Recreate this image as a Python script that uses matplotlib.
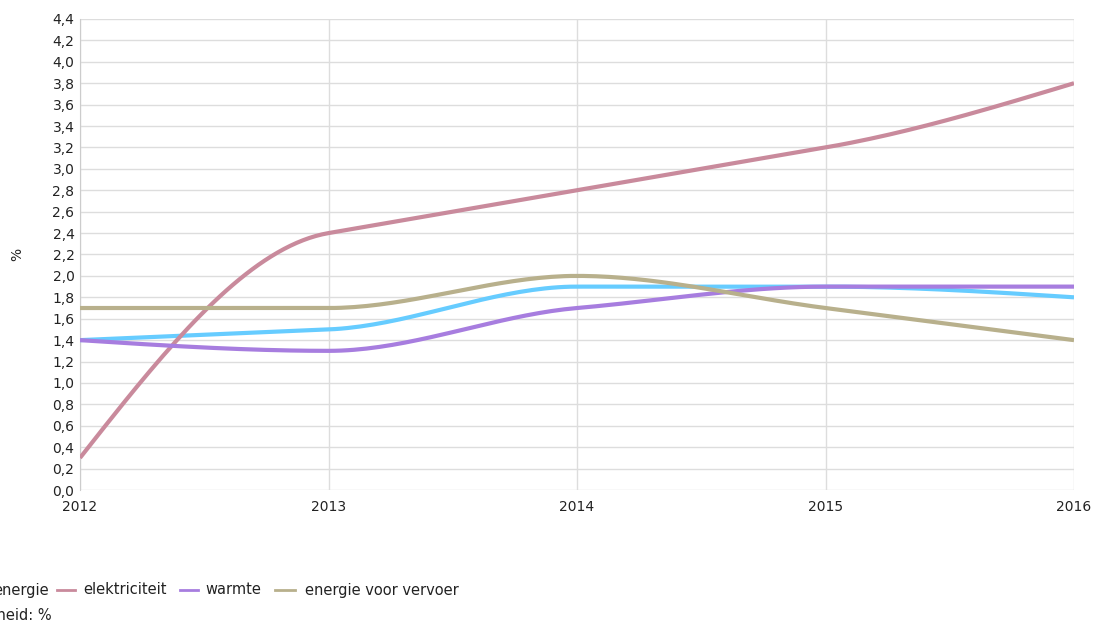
import numpy as np
import matplotlib
matplotlib.use("Agg")
import matplotlib.pyplot as plt
from matplotlib.lines import Line2D

plt.rcParams['font.family'] = ['DejaVu Sans']

years = [2012, 2013, 2014, 2015, 2016]
energie = [1.4, 1.5, 1.9, 1.9, 1.8]
elektriciteit = [0.3, 2.4, 2.8, 3.2, 3.8]
warmte = [1.4, 1.3, 1.7, 1.9, 1.9]
vervoer = [1.7, 1.7, 2.0, 1.7, 1.4]

labels = ["energie", "elektriciteit", "warmte", "energie voor vervoer"]
colors = ["#66ccff", "#c98a9c", "#a77ddf", "#b8b08c"]
yticks = np.arange(0, 4.41, 0.2)


def smooth(x, y, n=40):
    # monotone cubic curve through the points, only for drawing
    x = np.asarray(x, float)
    y = np.asarray(y, float)
    h = np.diff(x)
    s = np.diff(y) / h
    t = np.zeros(len(x))
    for i in range(1, len(x) - 1):
        if s[i - 1] * s[i] > 0:
            t[i] = np.sign(s[i]) * min(abs(s[i - 1]), abs(s[i]))
    t[0] = (3 * s[0] - t[1]) / 2
    t[-1] = (3 * s[-1] - t[-2]) / 2
    xs, ys = [], []
    u = np.linspace(0, 1, n)
    for i in range(len(x) - 1):
        dx = h[i] / 3
        px = [x[i], x[i] + dx, x[i + 1] - dx, x[i + 1]]
        py = [y[i], y[i] + dx * t[i], y[i + 1] - dx * t[i + 1], y[i + 1]]
        b = [(1 - u) ** 3, 3 * u * (1 - u) ** 2, 3 * u ** 2 * (1 - u), u ** 3]
        xs.extend(sum(bb * pp for bb, pp in zip(b, px)))
        ys.extend(sum(bb * pp for bb, pp in zip(b, py)))
    return np.array(xs), np.array(ys)


fig = plt.figure(figsize=(10.97, 6.23), dpi=100)
ax = fig.add_axes([80 / 1097, 133 / 623, 994 / 1097, 471 / 623])

for data, c in zip([energie, elektriciteit, warmte, vervoer], colors):
    xs, ys = smooth(years, data)
    ax.plot(xs, ys, color=c, lw=3, solid_capstyle='butt', zorder=3)

ax.set_xlim(2012, 2016)
ax.set_ylim(0, 4.4)
ax.set_xticks(years)
ax.set_xticklabels([str(y) for y in years])
ax.set_yticks(yticks)
ax.set_yticklabels([f"{v:.1f}".replace(".", ",") for v in yticks])
ax.grid(True, color="#dddddd", lw=1)
for sp in ["top", "right", "bottom"]:
    ax.spines[sp].set_visible(False)
ax.spines["left"].set_color("#cccccc")
ax.tick_params(length=0, labelsize=10, colors="#222222")
ax.tick_params(axis='x', pad=7)
ax.tick_params(axis='y', pad=4)
ax.set_ylabel("%", fontsize=10, color="#222222")
ax.yaxis.set_label_coords(-56 / 994, 0.5)

# legend below the chart, partly cut at the left edge
W, H = 1097, 623
ly = 1 - 590 / H
fig.text(49 / W, ly, labels[0], ha='right', va='center', fontsize=10.5, color="#222222")
sw = [(57, 75), (180, 198), (275, 295)]
tx = [83, 205, 305]
for (a, b), x0, lab, c in zip(sw, tx, labels[1:], colors[1:]):
    fig.add_artist(Line2D([a / W, b / W], [ly, ly], color=c, lw=2, transform=fig.transFigure))
    fig.text(x0 / W, ly, lab, ha='left', va='center', fontsize=10.5, color="#222222")
fig.text(52 / W, 1 - 616 / H, "Eenheid: %", ha='right', va='center', fontsize=10.5, color="#222222")

fig.savefig("out.png", dpi=100)
